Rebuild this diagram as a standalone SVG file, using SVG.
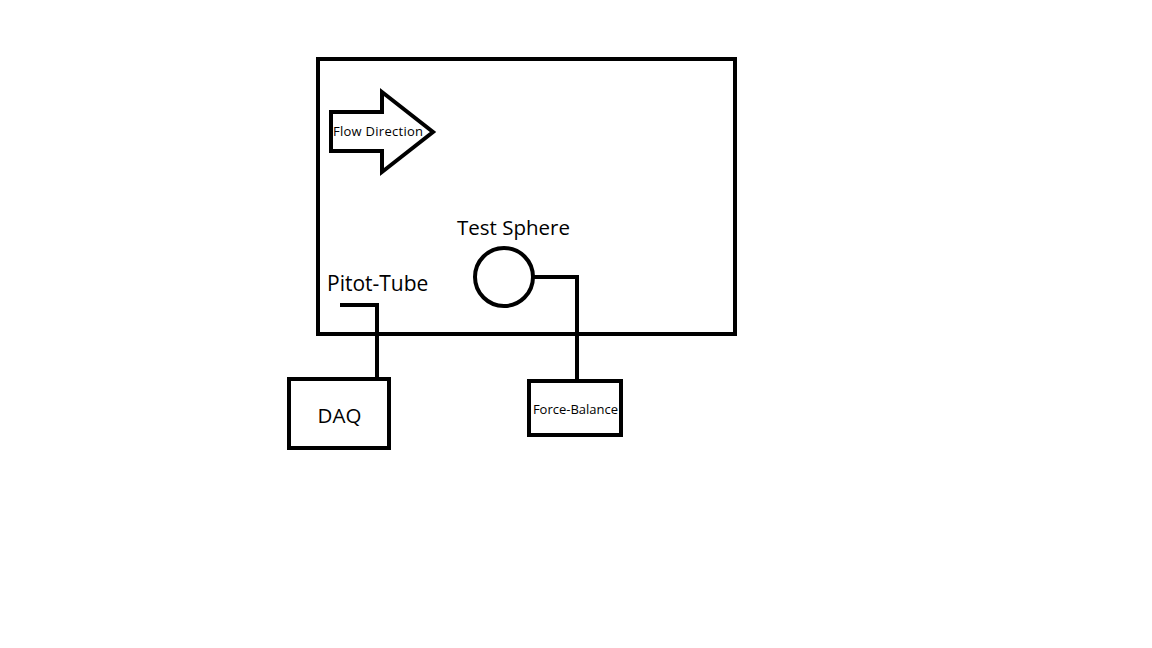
<svg xmlns="http://www.w3.org/2000/svg" width="1152" height="648" viewBox="0 0 1152 648">
<style>
.s{fill:none;stroke:#000;stroke-width:4;stroke-linejoin:miter}
.b{fill:#fff;stroke:#000;stroke-width:4}
.t{font-family:"Open Sans","Noto Sans","Liberation Sans",sans-serif;fill:#000}
</style>
<rect width="1152" height="648" fill="#fff"/>
<g id="tunnel"><rect class="s" x="318" y="59" width="417" height="275"/></g>
<g id="flow-arrow">
<polygon class="s" points="331,112 382,112 382,92 433,132 382,172 382,151 331,151" stroke-width="3.5"/>
<text class="t" x="333" y="136" font-size="13" textLength="90">Flow Direction</text>
</g>
<g id="connectors">
<polyline class="s" points="340,305 377,305 377,379"/>
<polyline class="s" points="533,277 577,277 577,381"/>
</g>
<g id="sphere">
<circle class="s" cx="504" cy="277" r="29" stroke-width="3.5"/>
<text class="t" x="513.5" y="235" font-size="20.5" text-anchor="middle">Test Sphere</text>
</g>
<g id="pitot"><text class="t" x="327" y="291" font-size="21">Pitot-Tube</text></g>
<g id="daq"><rect class="b" x="289" y="379" width="100" height="69"/><text class="t" x="339.5" y="423" font-size="20.5" text-anchor="middle">DAQ</text></g>
<g id="force-balance"><rect class="b" x="529" y="381" width="92" height="54"/><text class="t" x="575.5" y="414" font-size="13" text-anchor="middle">Force-Balance</text></g>
</svg>
